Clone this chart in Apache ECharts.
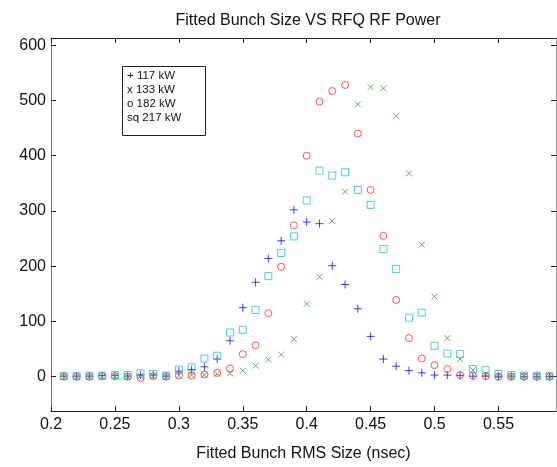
<!doctype html>
<html lang="en">
<head>
<meta charset="UTF-8">
<title>Fitted Bunch Size VS RFQ RF Power</title>
<script src="https://cdn.jsdelivr.net/npm/echarts@6/dist/echarts.min.js"></script>
<style>
    html, body { margin: 0; padding: 0; background: #fff; }
    #chart { width: 557px; height: 467px; }
</style>
</head>
<body>
<div id="chart"></div>
<script>
// bunch RMS size (nsec), 0.21 .. 0.59
var bunchSize = [0.21, 0.22, 0.23, 0.24, 0.25, 0.26, 0.27, 0.28, 0.29,
    0.30, 0.31, 0.32, 0.33, 0.34, 0.35, 0.36, 0.37, 0.38, 0.39,
    0.40, 0.41, 0.42, 0.43, 0.44, 0.45, 0.46, 0.47, 0.48, 0.49,
    0.50, 0.51, 0.52, 0.53, 0.54, 0.55, 0.56, 0.57, 0.58, 0.59];
// counts per RF power
var power117 = [1, 1, 1, 2, 2, 1, 3, 3, 1,
    10, 13, 18, 32, 65, 125, 171, 214, 246, 302,
    280, 277, 201, 167, 123, 73, 32, 19, 11, 7,
    3, 3, 2, 1, 1, 1, 1, 0, 0, 0];
var power133 = [0, 0, 0, 0, 1, 0, 1, 1, 0,
    2, 3, 3, 5, 6, 11, 20, 31, 40, 68,
    132, 181, 282, 335, 493, 524, 522, 472, 368, 239,
    145, 70, 32, 12, 5, 2, 1, 1, 1, 0];
var power182 = [0, 0, 0, 1, 1, 0, -2, 1, 0,
    2, 2, 4, 7, 15, 41, 57, 115, 199, 274,
    400, 498, 517, 528, 440, 338, 255, 139, 70, 33,
    21, 14, 3, 2, 1, 0, 0, 0, 0, 0];
var power217 = [1, 1, 2, 2, 3, 3, 6, 5, 2,
    13, 17, 33, 38, 80, 85, 121, 182, 224, 254,
    319, 373, 364, 370, 338, 311, 231, 195, 107, 116,
    56, 42, 41, 14, 12, 5, 3, 2, 2, 1];
var legendLines = ['+ 117 kW', 'x 133 kW', 'o 182 kW', 'sq 217 kW'];
var xTicks = [0.2, 0.25, 0.3, 0.35, 0.4, 0.45, 0.5, 0.55];
var yTicks = [0, 100, 200, 300, 400, 500, 600];

var pairs = function (ys) {
    return bunchSize.map(function (x, i) { return [x, ys[i]]; });
};
var mk = function (name, ys, symbol, size, color) {
    return {
        name: name,
        type: 'scatter',
        data: pairs(ys),
        symbol: symbol,
        symbolSize: size,
        itemStyle: { color: 'transparent', borderColor: color, borderWidth: 1 },
        emphasis: { disabled: true },
        silent: true
    };
};

var font = 'Liberation Sans, Arial, sans-serif';
var tickCfg = { show: true, inside: true, length: 5, lineStyle: { color: '#222' } };

var myChart = echarts.init(document.getElementById('chart'));
var option = {
    animation: false,
    title: {
        text: 'Fitted Bunch Size VS RFQ RF Power',
        left: 303, top: 8, textAlign: 'center',
        textStyle: { fontFamily: font, fontSize: 16, fontWeight: 'normal', color: '#111' }
    },
    grid: { left: 51, right: 1, top: 38, bottom: 46 },
    xAxis: [{
        type: 'value', min: 0.2, max: 0.595,
        name: 'Fitted Bunch RMS Size (nsec)', nameLocation: 'middle', nameGap: 35,
        nameTextStyle: { fontFamily: font, fontSize: 16, color: '#111' },
        axisLine: { onZero: false, lineStyle: { color: '#222' } },
        axisTick: Object.assign({ customValues: xTicks }, tickCfg),
        axisLabel: { customValues: xTicks, fontFamily: font, fontSize: 16, color: '#111', margin: 6 },
        splitLine: { show: false }
    }, {
        type: 'value', min: 0.2, max: 0.595, position: 'top',
        axisLine: { onZero: false, lineStyle: { color: '#222' } },
        axisTick: Object.assign({ customValues: xTicks }, tickCfg),
        axisLabel: { show: false },
        splitLine: { show: false }
    }],
    yAxis: [{
        type: 'value', min: -62, max: 613,
        axisLine: { show: true, onZero: false, lineStyle: { color: '#777' } },
        axisTick: Object.assign({ customValues: yTicks }, tickCfg),
        axisLabel: { customValues: yTicks, fontFamily: font, fontSize: 16, color: '#111', margin: 5 },
        splitLine: { show: false }
    }, {
        type: 'value', min: -62, max: 613, position: 'right',
        axisLine: { show: true, onZero: false, lineStyle: { color: '#999' } },
        axisTick: Object.assign({ customValues: yTicks }, tickCfg),
        axisLabel: { show: false },
        splitLine: { show: false }
    }],
    graphic: [{
        type: 'rect', left: 122, top: 66,
        shape: { width: 83, height: 69 },
        style: { fill: '#fff', stroke: '#222', lineWidth: 1 }
    }, {
        type: 'text', left: 127, top: 69,
        style: {
            text: legendLines.join('\n'), fontFamily: font, fontSize: 11.5,
            lineHeight: 14, fill: '#111'
        }
    }],
    series: [
        mk(legendLines[0], power117, 'path://M5,0L5,10M0,5L10,5', 8, '#1010ff'),
        mk(legendLines[1], power133, 'path://M0,0L10,10M10,0L0,10', 6, '#3a9a3a'),
        mk(legendLines[2], power182, 'circle', 7, '#ff2a2a'),
        mk(legendLines[3], power217, 'rect', 7, '#22c4c4')
    ]
};
myChart.setOption(option);
</script>
</body>
</html>
